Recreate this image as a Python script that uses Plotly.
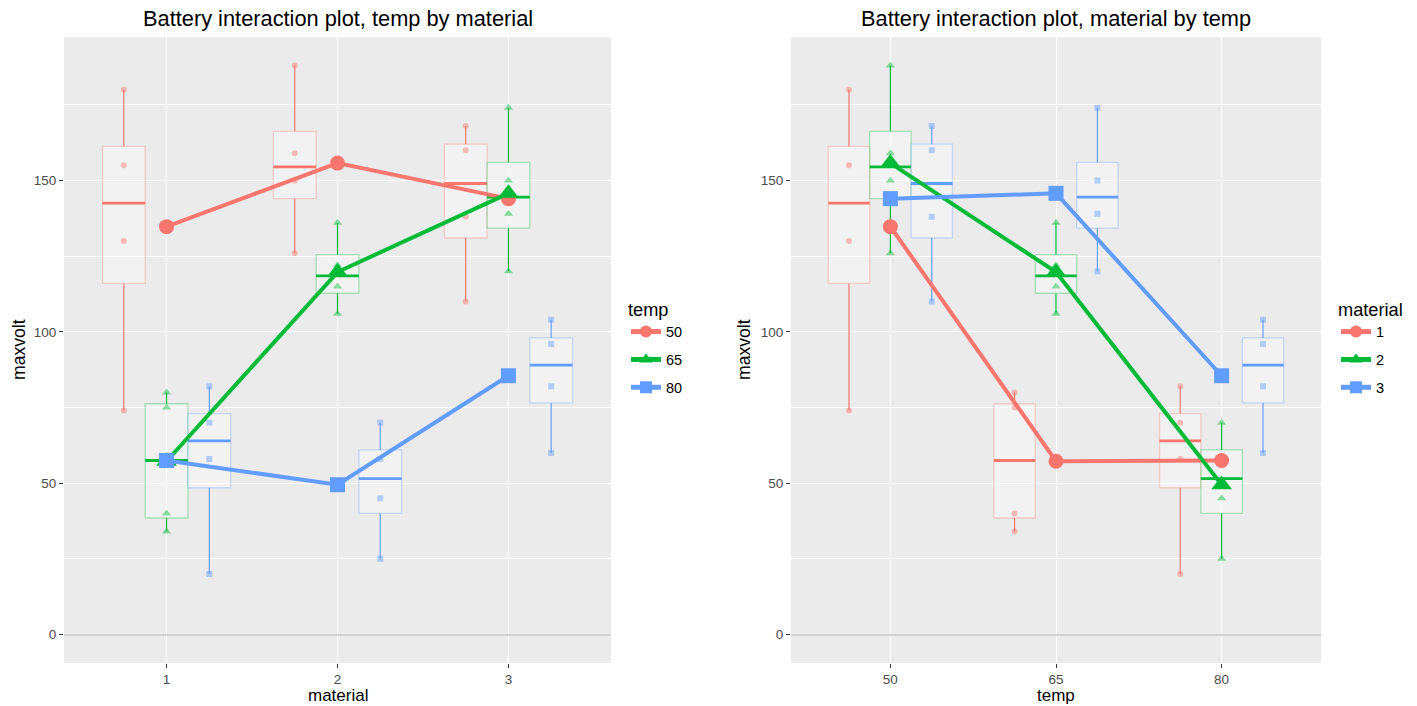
import numpy as np
import pandas as pd
import plotly.graph_objects as go

# Battery experiment: max voltage for 3 materials x 3 temperatures, 4 replicates each
temps = [50, 65, 80]
materials = [1, 2, 3]
obs_temp = [50, 50, 50, 50, 65, 65, 65, 65, 80, 80, 80, 80]
maxvolt_mat1 = [130, 155, 74, 180, 34, 40, 80, 75, 20, 70, 82, 58]
maxvolt_mat2 = [150, 188, 159, 126, 136, 122, 106, 115, 25, 70, 58, 45]
maxvolt_mat3 = [138, 110, 168, 160, 174, 120, 150, 139, 96, 104, 82, 60]

df = pd.concat([
    pd.DataFrame({"material": m, "temp": obs_temp, "maxvolt": v})
    for m, v in zip(materials, [maxvolt_mat1, maxvolt_mat2, maxvolt_mat3])
], ignore_index=True)

COLORS = ["#F8766D", "#00BA38", "#619CFF"]
SYMBOLS = ["circle", "triangle-up", "square"]
SMALL_SIZES = [6, 8, 6]
BIG_SIZES = [15, 18, 15]
FONT = "Liberation Sans, Arial, sans-serif"
W, H = 1417, 706


def rgba(hexcol, a):
    h = hexcol.lstrip("#")
    r, g, b = int(h[0:2], 16), int(h[2:4], 16), int(h[4:6], 16)
    return f"rgba({r},{g},{b},{a})"


def box_stats(vals):
    vals = np.asarray(vals, dtype=float)
    q1, med, q3 = np.percentile(vals, [25, 50, 75])
    iqr = q3 - q1
    lo = vals[vals >= q1 - 1.5 * iqr].min()
    hi = vals[vals <= q3 + 1.5 * iqr].max()
    return q1, med, q3, lo, hi


fig = go.Figure()


def add_panel(xvar, xlevels, gvar, glevels, xa, ya, legend_name):
    dodge = 0.25
    half = dodge / 2
    # boxplots: whiskers, box bodies, medians
    for gi, g in enumerate(glevels):
        col = COLORS[gi]
        wx, wy, bx, by, mx, my = [], [], [], [], [], []
        for xi, xv in enumerate(xlevels):
            vals = df[(df[xvar] == xv) & (df[gvar] == g)]["maxvolt"]
            q1, med, q3, lo, hi = box_stats(vals)
            xc = xi + 1 + (gi - 1) * dodge
            wx += [xc, xc, None, xc, xc, None]
            wy += [q3, hi, None, q1, lo, None]
            bx += [xc - half, xc + half, xc + half, xc - half, xc - half, None]
            by += [q1, q1, q3, q3, q1, None]
            mx += [xc - half, xc + half, None]
            my += [med, med, None]
        fig.add_trace(go.Scatter(x=wx, y=wy, mode="lines", xaxis=xa, yaxis=ya,
                                 line=dict(color=col, width=1.2),
                                 showlegend=False, hoverinfo="skip"))
        fig.add_trace(go.Scatter(x=bx, y=by, mode="lines", fill="toself",
                                 xaxis=xa, yaxis=ya,
                                 fillcolor="rgba(255,255,255,0.35)",
                                 line=dict(color=rgba(col, 0.3), width=1.3),
                                 showlegend=False, hoverinfo="skip"))
        fig.add_trace(go.Scatter(x=mx, y=my, mode="lines", xaxis=xa, yaxis=ya,
                                 line=dict(color=col, width=2.8),
                                 showlegend=False, hoverinfo="skip"))
    # raw observations
    for gi, g in enumerate(glevels):
        sub = df[df[gvar] == g]
        xpos = [xlevels.index(v) + 1 + (gi - 1) * dodge for v in sub[xvar]]
        fig.add_trace(go.Scatter(x=xpos, y=sub["maxvolt"], mode="markers",
                                 xaxis=xa, yaxis=ya,
                                 marker=dict(color=COLORS[gi], opacity=0.45,
                                             symbol=SYMBOLS[gi],
                                             size=SMALL_SIZES[gi]),
                                 showlegend=False))
    # interaction means
    for gi, g in enumerate(glevels):
        means = df[df[gvar] == g].groupby(xvar)["maxvolt"].mean()
        fig.add_trace(go.Scatter(x=[xlevels.index(v) + 1 for v in means.index],
                                 y=means.values, mode="lines+markers",
                                 xaxis=xa, yaxis=ya, name=str(g),
                                 legend=legend_name, legendgroup=f"{legend_name}{g}",
                                 line=dict(color=COLORS[gi], width=4),
                                 marker=dict(color=COLORS[gi], symbol=SYMBOLS[gi],
                                             size=BIG_SIZES[gi])))


add_panel("material", materials, "temp", temps, "x", "y", "legend")
add_panel("temp", temps, "material", materials, "x2", "y2", "legend2")

ydom = [1 - 663 / H, 1 - 37 / H]
x1dom = [64 / W, 611 / W]
x2dom = [791 / W, 1321 / W]

axis_common = dict(
    showline=False, ticks="outside", ticklen=4, tickwidth=1.1, tickcolor="#333333",
    tickfont=dict(family=FONT, size=13.5, color="#4D4D4D"),
    gridcolor="white", gridwidth=1.1, zeroline=False,
)
xcommon = dict(axis_common, range=[0.4, 3.6], tickvals=[1, 2, 3])
ycommon = dict(axis_common, range=[-9.4, 197.4], tickvals=[0, 50, 100, 150],
               zeroline=True, zerolinecolor="#D3D3D3", zerolinewidth=1.8,
               minor=dict(tickvals=[25, 75, 125, 175], showgrid=True,
                          gridcolor="white", gridwidth=0.55, ticks=""))

legend_common = dict(
    bgcolor="rgba(0,0,0,0)", yanchor="top", y=1 - 292 / H, xanchor="left",
    font=dict(family=FONT, size=14.5, color="black"),
    itemsizing="constant", tracegroupgap=6,
)

fig.update_layout(
    width=W, height=H, autosize=False,
    margin=dict(l=0, r=0, t=0, b=0),
    paper_bgcolor="white", plot_bgcolor="#EBEBEB",
    font=dict(family=FONT),
    xaxis=dict(xcommon, domain=x1dom, anchor="y", ticktext=["1", "2", "3"]),
    yaxis=dict(ycommon, domain=ydom, anchor="x"),
    xaxis2=dict(xcommon, domain=x2dom, anchor="y2", ticktext=["50", "65", "80"]),
    yaxis2=dict(ycommon, domain=ydom, anchor="x2"),
    legend=dict(legend_common, x=626 / W,
                title=dict(text="temp", font=dict(family=FONT, size=18.2))),
    legend2=dict(legend_common, x=1336 / W,
                 title=dict(text="material", font=dict(family=FONT, size=18.2))),
    showlegend=True,
)

texts = [
    ("Battery interaction plot, temp by material", (x1dom[0] + x1dom[1]) / 2, 1 - 19 / H, 21.8, 0, "middle"),
    ("Battery interaction plot, material by temp", (x2dom[0] + x2dom[1]) / 2, 1 - 19 / H, 21.8, 0, "middle"),
    ("material", (x1dom[0] + x1dom[1]) / 2, 0.0, 17, 0, "bottom"),
    ("temp", (x2dom[0] + x2dom[1]) / 2, 0.0, 17, 0, "bottom"),
    ("maxvolt", 19 / W, (ydom[0] + ydom[1]) / 2, 17.6, -90, "middle"),
    ("maxvolt", 744 / W, (ydom[0] + ydom[1]) / 2, 17.6, -90, "middle"),
]
for txt, xx, yy, sz, ang, yanc in texts:
    fig.add_annotation(text=txt, x=xx, y=yy, xref="paper", yref="paper",
                       xanchor="center", yanchor=yanc, showarrow=False,
                       borderpad=0, textangle=ang,
                       font=dict(family=FONT, size=sz, color="black"))

fig.write_html("out.html")
